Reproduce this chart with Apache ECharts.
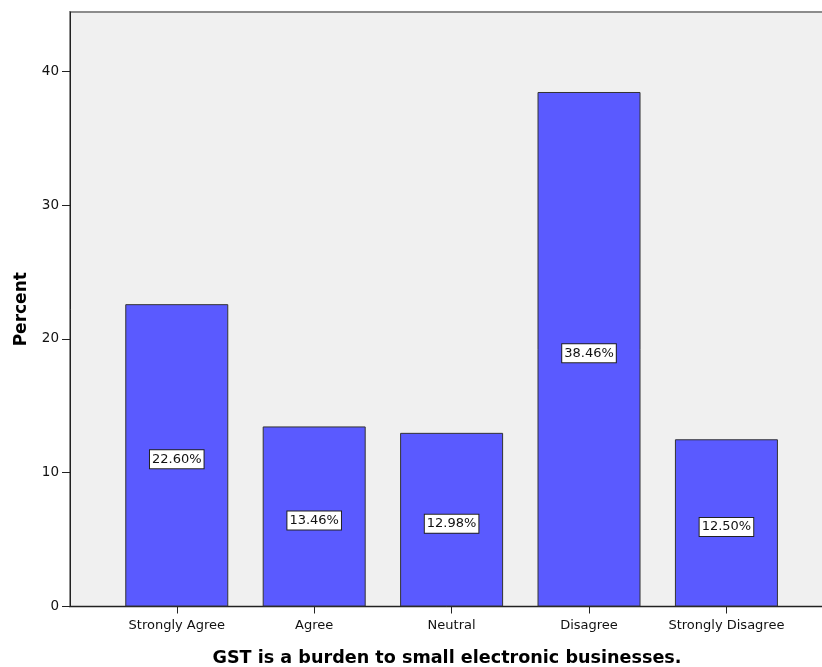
<!DOCTYPE html>
<html>
<head>
<meta charset="utf-8">
<style>
  html, body { margin: 0; padding: 0; background: #ffffff; }
  #chart { width: 822px; height: 667px; }
</style>
<script src="https://cdn.jsdelivr.net/npm/echarts@6/dist/echarts.min.js"></script>
</head>
<body>
<div id="chart"></div>
<script>
// Response categories and their percentages
const categories = ['Strongly Agree', 'Agree', 'Neutral', 'Disagree', 'Strongly Disagree'];
const percents = [22.60, 13.46, 12.98, 38.46, 12.50];
const yTicks = [0, 10, 20, 30, 40];
const xTitle = 'GST is a burden to small electronic businesses.';
const yTitle = 'Percent';

// Categories sit at positions 1..5 on a numeric x axis so the frame can extend past the bars
const positions = categories.map((_, i) => i + 1);
const barData = percents.map((v, i) => [positions[i], v]);

const chart = echarts.init(document.getElementById('chart'), null, { renderer: 'canvas' });

chart.setOption({
  animation: false,
  grid: {
    left: 70, right: -2, top: 12, bottom: 60.5,
    outerBoundsMode: 'none',
    containLabel: false,
    show: true,
    backgroundColor: '#f0f0f0',
    borderColor: '#8c8c8c',
    borderWidth: 2
  },
  xAxis: {
    type: 'value',
    min: 0.223,
    max: 5.71,
    name: xTitle,
    nameLocation: 'middle',
    nameGap: 43,
    nameTextStyle: { fontFamily: 'DejaVu Sans', fontWeight: 'bold', fontSize: 17.6, color: '#000' },
    splitLine: { show: false },
    axisLine: { show: true, onZero: false, lineStyle: { color: '#222', width: 1 } },
    axisTick: { show: true, length: 7, customValues: positions, lineStyle: { color: '#222' } },
    axisLabel: {
      customValues: positions,
      margin: 13,
      fontFamily: 'DejaVu Sans', fontSize: 13, color: '#111',
      formatter: v => categories[Math.round(v) - 1] || ''
    }
  },
  yAxis: {
    type: 'value',
    min: 0,
    max: 44.44,
    name: yTitle,
    nameLocation: 'middle',
    nameGap: 40,
    nameTextStyle: { fontFamily: 'DejaVu Sans', fontWeight: 'bold', fontSize: 17, color: '#000' },
    splitLine: { show: false },
    axisLine: { show: true, lineStyle: { color: '#222', width: 1 } },
    axisTick: { show: true, length: 8, customValues: yTicks, lineStyle: { color: '#222' } },
    axisLabel: {
      customValues: yTicks,
      margin: 11,
      fontFamily: 'DejaVu Sans', fontSize: 13.5, color: '#111'
    }
  },
  series: [{
    type: 'bar',
    data: barData,
    barWidth: 103,
    itemStyle: { color: '#5a5aff', borderColor: '#333', borderWidth: 1 },
    label: {
      show: true,
      position: 'inside',
      offset: [0, 4],
      formatter: p => p.value[1].toFixed(2) + '%',
      fontFamily: 'DejaVu Sans',
      fontSize: 13,
      color: '#111',
      backgroundColor: '#ffffff',
      borderColor: '#222',
      borderWidth: 1,
      padding: [3, 2, 2, 2]
    }
  }]
});
</script>
</body>
</html>
